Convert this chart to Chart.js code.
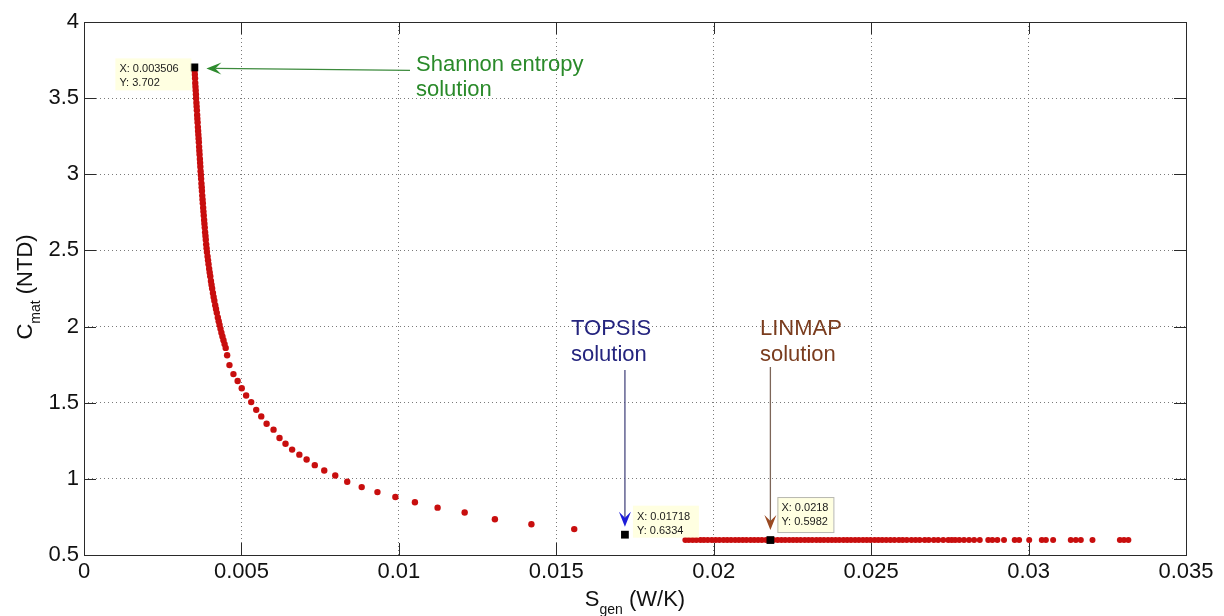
<!DOCTYPE html>
<html>
<head>
<meta charset="utf-8">
<title>Pareto front</title>
<script src="https://cdn.jsdelivr.net/npm/chart.js@4"></script>
<style>
  html, body { margin: 0; padding: 0; background: #fff; }
  #wrap { width: 1224px; height: 616px; }
</style>
</head>
<body>
<div id="wrap"><canvas id="chart" width="1224" height="616"></canvas></div>
<script>
// Pareto front, steep part then the spread-out tail
const sgenFront = [
  0.003506, 0.003512, 0.003520, 0.003527, 0.003533, 0.003540, 0.003548, 0.003555, 0.003560, 0.003570,
  0.003577, 0.003585, 0.003594, 0.003600, 0.003608, 0.003617, 0.003624, 0.003632, 0.003640, 0.003648,
  0.003656, 0.003663, 0.003671, 0.003680, 0.003688, 0.003695, 0.003704, 0.003712, 0.003720, 0.003730,
  0.003738, 0.003746, 0.003756, 0.003765, 0.003774, 0.003785, 0.003794, 0.003804, 0.003815, 0.003825,
  0.003835, 0.003847, 0.003858, 0.003868, 0.003881, 0.003893, 0.003905, 0.003925, 0.003940, 0.003956,
  0.003975, 0.003992, 0.004010, 0.004032, 0.004050, 0.004070, 0.004095, 0.004117, 0.004140, 0.004168,
  0.004192, 0.004218, 0.004250, 0.004278, 0.004306, 0.004335, 0.004365, 0.004397, 0.004430, 0.004465,
  0.004500,
  0.004546, 0.004620, 0.004746, 0.004880, 0.005010, 0.005150, 0.005310, 0.005470, 0.005630, 0.005800,
  0.006020, 0.006210, 0.006400, 0.006610, 0.006840, 0.007070, 0.007330, 0.007630, 0.007980, 0.008360,
  0.008820, 0.009320, 0.009890, 0.010510, 0.011230, 0.012090, 0.013050, 0.014210, 0.015570
];
const cmatFront = [
  3.702, 3.680, 3.655, 3.630, 3.600, 3.575, 3.550, 3.525, 3.500, 3.470,
  3.445, 3.420, 3.390, 3.365, 3.340, 3.310, 3.285, 3.260, 3.235, 3.210,
  3.180, 3.155, 3.130, 3.100, 3.075, 3.050, 3.020, 2.995, 2.970, 2.940,
  2.915, 2.890, 2.860, 2.835, 2.810, 2.780, 2.755, 2.730, 2.700, 2.675,
  2.650, 2.620, 2.595, 2.570, 2.540, 2.515, 2.490, 2.460, 2.435, 2.410,
  2.380, 2.355, 2.330, 2.300, 2.275, 2.250, 2.220, 2.195, 2.170, 2.140,
  2.115, 2.090, 2.060, 2.035, 2.010, 1.985, 1.960, 1.935, 1.910, 1.885,
  1.860,
  1.812, 1.747, 1.688, 1.643, 1.595, 1.547, 1.504, 1.453, 1.410, 1.362,
  1.323, 1.268, 1.231, 1.192, 1.159, 1.127, 1.090, 1.055, 1.022, 0.981,
  0.946, 0.913, 0.881, 0.846, 0.811, 0.779, 0.735, 0.702, 0.670
];

// flat branch at the bottom
const sgenFlat = [
  0.01910, 0.01921, 0.01933, 0.01945, 0.01958, 0.01969, 0.01981, 0.01994, 0.02006, 0.02018,
  0.02031, 0.02043, 0.02055, 0.02068, 0.02080, 0.02092, 0.02104, 0.02117, 0.02129, 0.02141,
  0.02153, 0.02166, 0.02178, 0.02190, 0.02203, 0.02215, 0.02227, 0.02240, 0.02252, 0.02264,
  0.02276, 0.02289, 0.02301, 0.02313, 0.02326, 0.02338, 0.02350, 0.02363, 0.02375, 0.02387,
  0.02399, 0.02412, 0.02424, 0.02436, 0.02449, 0.02461, 0.02474, 0.02486, 0.02498, 0.02511,
  0.02523, 0.02535, 0.02548, 0.02561, 0.02574, 0.02588, 0.02600, 0.02613, 0.02628, 0.02641,
  0.02654, 0.02670, 0.02683, 0.02699, 0.02713, 0.02729, 0.02745, 0.02756,
  0.02767, 0.02780, 0.02795, 0.02811, 0.02827, 0.02845, 0.02872, 0.02885, 0.02901, 0.02922,
  0.02956, 0.02970, 0.03002, 0.03042, 0.03055, 0.03078, 0.03134, 0.03150, 0.03166, 0.03203,
  0.03290, 0.03303, 0.03317
];
const cmatFlat = [
  0.598, 0.598, 0.598, 0.598, 0.598, 0.598, 0.598, 0.598, 0.598, 0.598,
  0.598, 0.598, 0.598, 0.598, 0.598, 0.598, 0.598, 0.598, 0.598, 0.598,
  0.598, 0.598, 0.598, 0.598, 0.598, 0.598, 0.598, 0.598, 0.598, 0.598,
  0.598, 0.598, 0.598, 0.598, 0.598, 0.598, 0.598, 0.598, 0.598, 0.598,
  0.598, 0.598, 0.598, 0.598, 0.598, 0.598, 0.598, 0.598, 0.598, 0.598,
  0.598, 0.598, 0.598, 0.598, 0.598, 0.598, 0.598, 0.598, 0.598, 0.598,
  0.598, 0.598, 0.598, 0.598, 0.598, 0.598, 0.598, 0.598,
  0.598, 0.598, 0.598, 0.598, 0.598, 0.598, 0.598, 0.598, 0.598, 0.598,
  0.598, 0.598, 0.598, 0.598, 0.598, 0.598, 0.598, 0.598, 0.598, 0.598,
  0.598, 0.598, 0.598
];

// the three picked solutions (data tips)
const solutionNames = ['Shannon entropy', 'TOPSIS', 'LINMAP'];
const solutionS = [0.003506, 0.01718, 0.0218];
const solutionC = [3.702, 0.6334, 0.5982];
const solutionTipX = ['X: 0.003506', 'X: 0.01718', 'X: 0.0218'];
const solutionTipY = ['Y: 3.702', 'Y: 0.6334', 'Y: 0.5982'];

// axes
const xTickValues = [0, 0.005, 0.01, 0.015, 0.02, 0.025, 0.03, 0.035];
const xTickLabels = ['0', '0.005', '0.01', '0.015', '0.02', '0.025', '0.03', '0.035'];
const yTickValues = [0.5, 1, 1.5, 2, 2.5, 3, 3.5, 4];
const yTickLabels = ['0.5', '1', '1.5', '2', '2.5', '3', '3.5', '4'];

const FONT = "'Liberation Sans', Arial, Helvetica, sans-serif";
const RED = 'rgb(200, 14, 14)';

function toPoints(xs, ys) {
    return xs.map((x, i) => ({ x: x, y: ys[i] }));
}

// filled MATLAB-like arrow head, tip at (x2, y2)
function drawArrow(ctx, x1, y1, x2, y2, lineColor, headColor) {
    const ang = Math.atan2(y2 - y1, x2 - x1);
    const len = 15, half = 6, notch = 9;
    const bx = x2 - Math.cos(ang) * notch, by = y2 - Math.sin(ang) * notch;
    ctx.save();
    ctx.strokeStyle = lineColor;
    ctx.lineWidth = 1.3;
    ctx.beginPath();
    ctx.moveTo(x1, y1);
    ctx.lineTo(bx, by);
    ctx.stroke();
    ctx.fillStyle = headColor;
    ctx.beginPath();
    ctx.moveTo(x2, y2);
    ctx.lineTo(x2 - Math.cos(ang) * len - Math.sin(ang) * half, y2 - Math.sin(ang) * len + Math.cos(ang) * half);
    ctx.lineTo(bx, by);
    ctx.lineTo(x2 - Math.cos(ang) * len + Math.sin(ang) * half, y2 - Math.sin(ang) * len - Math.cos(ang) * half);
    ctx.closePath();
    ctx.fill();
    ctx.restore();
}

function drawTip(ctx, x, y, w, h, lines, bordered) {
    ctx.save();
    ctx.fillStyle = 'rgba(255, 255, 215, 0.75)';
    ctx.fillRect(x, y, w, h);
    if (bordered) {
        ctx.strokeStyle = '#b8b8b0';
        ctx.lineWidth = 1;
        ctx.strokeRect(x + 0.5, y + 0.5, w, h);
    }
    ctx.fillStyle = '#1a1a1a';
    ctx.font = '11px ' + FONT;
    ctx.textBaseline = 'alphabetic';
    ctx.fillText(lines[0], x + 4, y + 14);
    ctx.fillText(lines[1], x + 4, y + 28);
    ctx.restore();
}

// title with a subscript, e.g. S_gen (W/K)
function drawSubTitle(ctx, main, sub, rest, cx, cy) {
    ctx.font = '22px ' + FONT;
    const w1 = ctx.measureText(main).width;
    const w3 = ctx.measureText(rest).width;
    ctx.font = '14px ' + FONT;
    const w2 = ctx.measureText(sub).width;
    let x = cx - (w1 + w2 + w3) / 2;
    ctx.fillStyle = '#111';
    ctx.textAlign = 'left';
    ctx.textBaseline = 'alphabetic';
    ctx.font = '22px ' + FONT;
    ctx.fillText(main, x, cy);
    x += w1;
    ctx.font = '14px ' + FONT;
    ctx.fillText(sub, x, cy + 8);
    x += w2;
    ctx.font = '22px ' + FONT;
    ctx.fillText(rest, x, cy);
}

const matlabFrame = {
    id: 'matlabFrame',
    afterDraw(chart) {
        const ctx = chart.ctx;
        const a = chart.chartArea;
        const xs = chart.scales.x, ys = chart.scales.y;
        ctx.save();

        // box + inward ticks on all sides
        ctx.strokeStyle = '#2a2a2a';
        ctx.lineWidth = 1;
        ctx.strokeRect(Math.round(a.left) + 0.5, Math.round(a.top) + 0.5,
            Math.round(a.right - a.left), Math.round(a.bottom - a.top));
        ctx.beginPath();
        xTickValues.forEach(v => {
            const px = Math.round(xs.getPixelForValue(v)) + 0.5;
            ctx.moveTo(px, a.bottom); ctx.lineTo(px, a.bottom - 12);
            ctx.moveTo(px, a.top); ctx.lineTo(px, a.top + 12);
        });
        yTickValues.forEach(v => {
            const py = Math.round(ys.getPixelForValue(v)) + 0.5;
            ctx.moveTo(a.left, py); ctx.lineTo(a.left + 12, py);
            ctx.moveTo(a.right, py); ctx.lineTo(a.right - 12, py);
        });
        ctx.stroke();

        // axis titles
        drawSubTitle(ctx, 'S', 'gen', ' (W/K)', (a.left + a.right) / 2, 606);
        ctx.save();
        ctx.translate(32, 287);
        ctx.rotate(-Math.PI / 2);
        drawSubTitle(ctx, 'C', 'mat', ' (NTD)', 0, 0);
        ctx.restore();

        // Shannon entropy solution
        const p0x = xs.getPixelForValue(solutionS[0]), p0y = ys.getPixelForValue(solutionC[0]);
        drawTip(ctx, p0x - 79, p0y - 9, 76, 32, [solutionTipX[0], solutionTipY[0]], false);
        drawArrow(ctx, 410, p0y + 3, p0x + 12, p0y + 1, '#3c8a3c', '#2e8b2e');
        ctx.fillStyle = '#2a8a2a';
        ctx.font = '22px ' + FONT;
        ctx.textAlign = 'left';
        ctx.fillText(solutionNames[0], 416, 71);
        ctx.fillText('solution', 416, 96);

        // TOPSIS solution
        const p1x = xs.getPixelForValue(solutionS[1]), p1y = ys.getPixelForValue(solutionC[1]);
        drawTip(ctx, p1x + 8, p1y - 29, 66, 32, [solutionTipX[1], solutionTipY[1]], false);
        drawArrow(ctx, p1x, 370, p1x, p1y - 8, '#4a4a80', '#1c1cd8');
        ctx.fillStyle = '#24247e';
        ctx.font = '22px ' + FONT;
        ctx.fillText(solutionNames[1], 571, 335);
        ctx.fillText('solution', 571, 361);

        // LINMAP solution
        const p2x = xs.getPixelForValue(solutionS[2]), p2y = ys.getPixelForValue(solutionC[2]);
        drawTip(ctx, p2x + 7, p2y - 43, 56, 35, [solutionTipX[2], solutionTipY[2]], true);
        drawArrow(ctx, p2x, 367, p2x, p2y - 10, '#7d6658', '#9a4a22');
        ctx.fillStyle = '#7a3c1e';
        ctx.font = '22px ' + FONT;
        ctx.fillText(solutionNames[2], 760, 335);
        ctx.fillText('solution', 760, 361);

        ctx.restore();
    }
};

new Chart(document.getElementById('chart'), {
    type: 'scatter',
    data: {
        datasets: [
            {
                label: 'solutions',
                data: toPoints(solutionS, solutionC),
                pointStyle: 'rect',
                pointRadius: 5.5,
                backgroundColor: '#000',
                borderWidth: 0,
                order: 0
            },
            {
                label: 'front',
                data: toPoints(sgenFront, cmatFront),
                pointRadius: 3.2,
                backgroundColor: RED,
                borderWidth: 0,
                order: 1
            },
            {
                label: 'flat',
                data: toPoints(sgenFlat, cmatFlat),
                pointRadius: 3,
                backgroundColor: RED,
                borderWidth: 0,
                order: 1
            }
        ]
    },
    options: {
        responsive: false,
        animation: false,
        layout: { padding: { top: 22, right: 38, left: 0, bottom: 0 } },
        plugins: {
            legend: { display: false },
            tooltip: { enabled: false }
        },
        scales: {
            x: {
                type: 'linear',
                min: 0,
                max: 0.035,
                afterBuildTicks: s => { s.ticks = xTickValues.map(v => ({ value: v })); },
                afterFit: s => { s.height = 61; },
                ticks: {
                    callback: (v, i) => xTickLabels[i],
                    font: { family: FONT, size: 22 },
                    color: '#111',
                    padding: 4,
                    maxRotation: 0,
                    autoSkip: false
                },
                grid: { color: '#7a7a7a', lineWidth: 1, drawTicks: false },
                border: { display: false, dash: [1, 3] }
            },
            y: {
                type: 'linear',
                min: 0.5,
                max: 4,
                afterBuildTicks: s => { s.ticks = yTickValues.map(v => ({ value: v })); },
                afterFit: s => { s.width = 84; },
                ticks: {
                    callback: (v, i) => yTickLabels[i],
                    font: { family: FONT, size: 22 },
                    color: '#111',
                    padding: 5,
                    autoSkip: false
                },
                grid: { color: '#7a7a7a', lineWidth: 1, drawTicks: false },
                border: { display: false, dash: [1, 3] }
            }
        }
    },
    plugins: [matlabFrame]
});
</script>
</body>
</html>
